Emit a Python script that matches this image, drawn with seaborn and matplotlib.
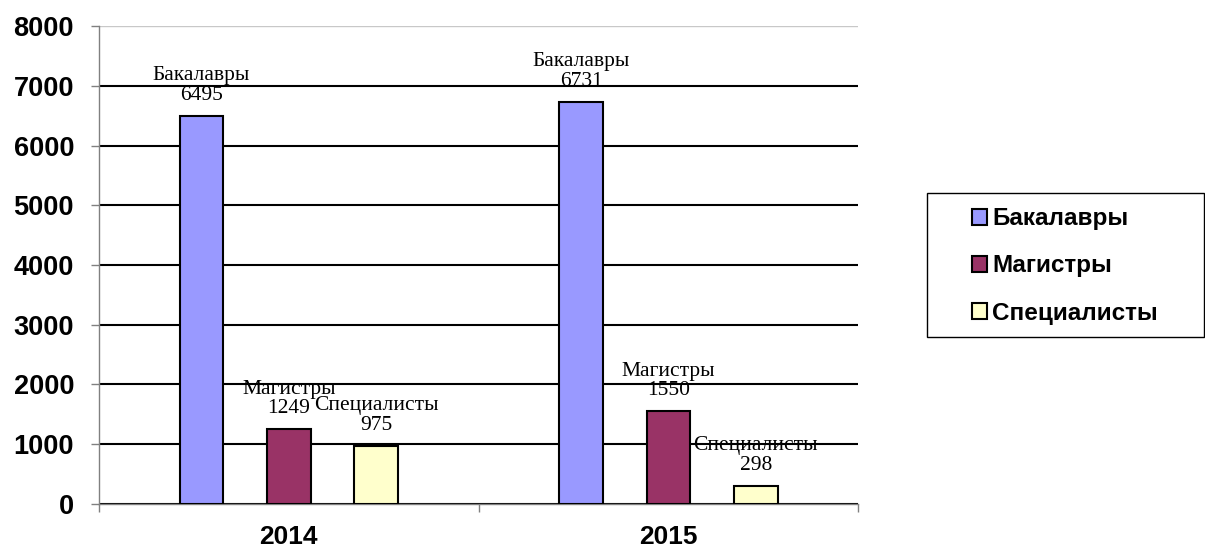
import matplotlib
matplotlib.use("Agg")
import matplotlib.pyplot as plt
from matplotlib.patches import Rectangle
import seaborn as sns
import pandas as pd

years = ["2014", "2015"]
groups = ["Бакалавры", "Магистры", "Специалисты"]
bakalavry = [6495, 6731]
magistry = [1249, 1550]
specialisty = [975, 298]
colors = ["#9999FF", "#993366", "#FFFFCC"]
yticks = [0, 1000, 2000, 3000, 4000, 5000, 6000, 7000, 8000]

rows = []
for g, vals in zip(groups, [bakalavry, magistry, specialisty]):
    for y, v in zip(years, vals):
        rows.append({"year": y, "group": g, "value": v})
df = pd.DataFrame(rows)

sns.set_style("white")
plt.rcParams["font.family"] = ["Liberation Sans", "DejaVu Sans"]
plt.rcParams["text.color"] = "black"
plt.rcParams["xtick.labelcolor"] = "black"
plt.rcParams["ytick.labelcolor"] = "black"

fig = plt.figure(figsize=(12.05, 5.49), dpi=100)
ax = fig.add_axes([0.0822, 0.082, 0.630, 0.8706])

sns.barplot(data=df, x="year", y="value", hue="group", order=years,
            hue_order=groups, palette=colors, width=0.69, gap=0.5,
            edgecolor="black", linewidth=1.5, saturation=1, ax=ax,
            zorder=3, legend=True)

ax.set_xlim(-0.5, 1.5)
ax.set_ylim(0, 8000)
ax.set_yticks(yticks)
ax.set_yticklabels([str(t) for t in yticks], fontsize=19.5, fontweight="bold",
                   color="black")
ax.set_xlabel("")
ax.set_ylabel("")

ax.set_xticks([0, 1])
ax.set_xticklabels(years, fontsize=19, fontweight="bold", color="black")
ax.set_xticks([-0.5, 0.5, 1.5], minor=True)
ax.tick_params(axis="x", which="major", length=0, pad=15)
ax.tick_params(axis="x", which="minor", length=6, width=1, color="#808080",
               direction="out", bottom=True)
ax.tick_params(axis="y", length=6, width=1, color="#808080", direction="out",
               left=True, pad=12)

ax.yaxis.grid(True, color="black", linewidth=1.5, zorder=0)
ax.set_axisbelow(True)
gl = ax.get_ygridlines()
gl[-1].set_color("#c8c8c8")
gl[-1].set_linewidth(1)

for side in ["left", "bottom"]:
    ax.spines[side].set_color("#808080")
    ax.spines[side].set_linewidth(1)
ax.spines["top"].set_visible(False)
ax.spines["right"].set_visible(False)

for cont, g in zip(ax.containers, groups):
    vals = [int(b.get_height()) for b in cont]
    ax.bar_label(cont, labels=[f"{g}\n{v}" for v in vals], padding=8,
                 fontsize=15.5, family=["Liberation Serif", "DejaVu Serif"],
                 linespacing=1.05, color="black")

handles, labels = ax.get_legend_handles_labels()
ax.legend_.remove()
leg = fig.legend(handles, labels, loc="center left",
                 bbox_to_anchor=(972 / 1205, 1 - 266 / 549),
                 frameon=False,
                 prop={"family": "Liberation Sans", "weight": "bold", "size": 17.5},
                 handlelength=0.62, handleheight=0.62, handletextpad=0.2,
                 labelspacing=1.0, borderpad=0, borderaxespad=0)
for t in leg.get_texts():
    t.set_color("black")
for h in leg.legend_handles:
    h.set_edgecolor("black")
    h.set_linewidth(1.5)

fig.patches.append(Rectangle((927 / 1205, 1 - 337 / 549), 277 / 1205, 144 / 549,
                             transform=fig.transFigure, fill=False,
                             edgecolor="black", linewidth=1))

fig.savefig("out.png", dpi=100)
